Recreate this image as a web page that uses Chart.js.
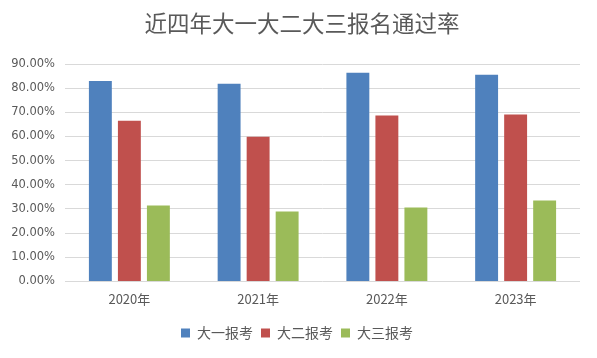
<!DOCTYPE html>
<html>
<head>
<meta charset="utf-8">
<script src="https://cdn.jsdelivr.net/npm/chart.js@4/dist/chart.umd.min.js"></script>
<style>
html,body{margin:0;padding:0;background:#fff;}
#wrap{width:597px;height:358px;}
</style>
</head>
<body>
<div id="wrap"><canvas id="c" width="597" height="358"></canvas></div>
<script>
const titleText = '近四年大一大二大三报名通过率';
const categories = ['2020年', '2021年', '2022年', '2023年'];
const seriesNames = ['大一报考', '大二报考', '大三报考'];
const freshman = [0.830, 0.818, 0.864, 0.855];
const sophomore = [0.665, 0.599, 0.687, 0.691];
const junior = [0.314, 0.289, 0.306, 0.335];
const yTicks = [0, 0.1, 0.2, 0.3, 0.4, 0.5, 0.6, 0.7, 0.8, 0.9];

const colors = ['#4f81bd', '#c0504d', '#9bbb59'];
const cjk = '"Noto Sans CJK SC", "DejaVu Sans", sans-serif';

const shiftBlocks = {
  id: 'shiftBlocks',
  afterLayout(chart) {
    if (chart.titleBlock) { chart.titleBlock.left += 12; chart.titleBlock.right += 12; }
    if (chart.legend) { chart.legend.left += 7; chart.legend.right += 7; }
  }
};

new Chart(document.getElementById('c'), {
  type: 'bar',
  data: {
    labels: categories,
    datasets: [freshman, sophomore, junior].map((d, i) => ({
      label: seriesNames[i],
      data: d,
      backgroundColor: colors[i],
      borderWidth: 0,
      categoryPercentage: 0.676,
      barPercentage: 0.79
    }))
  },
  plugins: [shiftBlocks],
  options: {
    responsive: false,
    animation: false,
    layout: { padding: { left: 0, right: 17, top: 8, bottom: 8 } },
    plugins: {
      title: {
        display: true,
        text: titleText,
        color: '#595959',
        font: { family: cjk, size: 22.5, weight: 'normal' },
        padding: { top: 2, bottom: 27 }
      },
      legend: {
        position: 'bottom',
        labels: {
          boxWidth: 9,
          boxHeight: 9,
          padding: 8,
          color: '#595959',
          font: { family: cjk, size: 14 }
        }
      },
      tooltip: { enabled: false }
    },
    scales: {
      x: {
        grid: { display: false, drawTicks: false },
        border: { display: false },
        afterFit: (axis) => { axis.height += 1; },
        ticks: {
          color: '#595959',
          font: { family: cjk, size: 13 },
          padding: 10
        }
      },
      y: {
        min: 0,
        max: 0.9,
        afterBuildTicks: (axis) => { axis.ticks = yTicks.map(v => ({ value: v })); },
        afterFit: (axis) => { axis.width = 65; },
        grid: { color: '#d9d9d9', drawTicks: false, lineWidth: 1 },
        border: { display: false },
        ticks: {
          color: '#595959',
          padding: 10,
          font: { family: '"DejaVu Sans", sans-serif', size: 11.5 },
          callback: (v) => (v * 100).toFixed(2) + '%'
        }
      }
    }
  }
});
</script>
</body>
</html>
